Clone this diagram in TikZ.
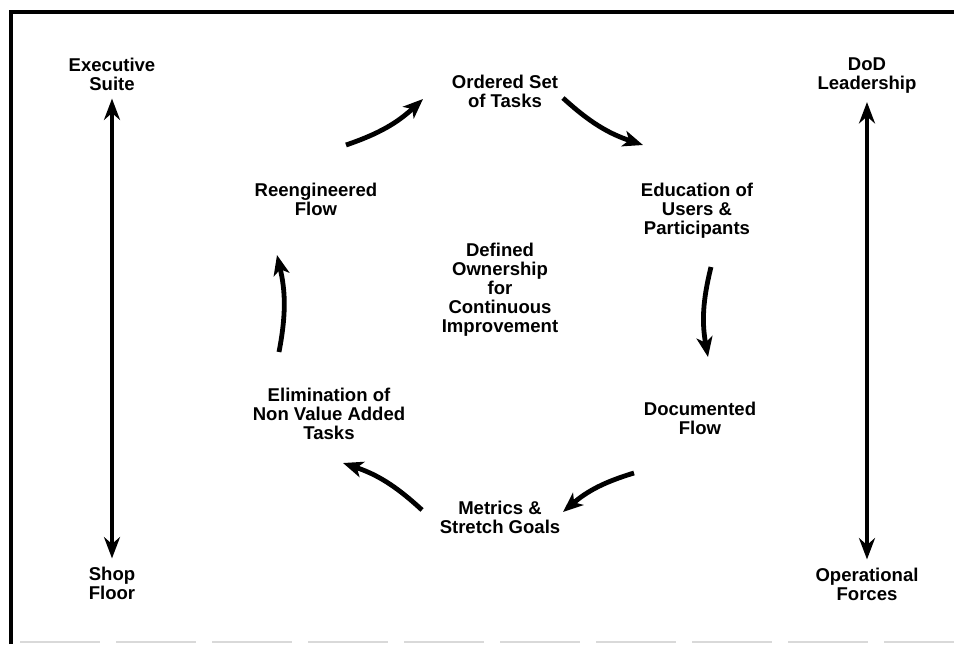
\documentclass[tikz,border=0pt]{standalone}
\usepackage{fontspec}
\setmainfont{Liberation Sans}
\usetikzlibrary{arrows.meta}

\tikzset{
  lbl/.style={font=\bfseries\fontsize{13.9}{14.3}\selectfont, align=center, inner sep=0pt},
  cyc/.style={line width=3.6pt, -{Stealth[length=15pt,width=12pt,inset=4pt]}, bend right=12},
  side/.style={line width=2.6pt, {Stealth[length=16pt,width=12pt]}-{Stealth[length=16pt,width=12pt]}, shorten <=6pt, shorten >=6pt},
}

\begin{document}
\begin{tikzpicture}[x=0.75pt, y=-0.75pt]
	\useasboundingbox (0,0) rectangle (954,644);
	% frame
	\draw[line width=3pt] (11,644) -- (11,12) -- (954,12);
	\draw[black!15, line width=0.8pt, dash pattern=on 60pt off 12pt] (20,642) -- (954,642);

	% ends of the scale
	\node[lbl] (exec) at (112,74) {Executive\\Suite};
	\node[lbl] (shop) at (112,583) {Shop\\Floor};
	\node[lbl] (dod) at (867,76) {DoD\\Leadership};
	\node[lbl] (ops) at (867,584) {Operational\\Forces};
	\draw[side] (exec) -- (shop);
	\draw[side] (dod) -- (ops);

	% the cycle
	\node[lbl] (ordered) at (505,91) {Ordered Set\\of Tasks};
	\node[lbl] (educ) at (697,211) {Education of\\Users \&\\Participants};
	\node[lbl] (doc) at (700,418) {Documented\\Flow};
	\node[lbl] (metrics) at (500,517) {Metrics \&\\Stretch Goals};
	\node[lbl] (elim) at (329,414) {Elimination of\\Non Value Added\\Tasks};
	\node[lbl] (reeng) at (316,199) {Reengineered\\Flow};
	\node[lbl] (own) at (500,290) {Defined\\Ownership\\for\\Continuous\\Improvement};

	\coordinate (a1) at (346,145); \coordinate (b1) at (423,99);
	\coordinate (a2) at (563,98);  \coordinate (b2) at (643,145);
	\coordinate (a3) at (711,267); \coordinate (b3) at (708,357);
	\coordinate (a4) at (634,473); \coordinate (b4) at (563,512);
	\coordinate (a5) at (422,510); \coordinate (b5) at (343,463);
	\coordinate (a6) at (279,352); \coordinate (b6) at (277,255);
	\foreach \i in {1,...,6}
		\draw[cyc] (a\i) to (b\i);
\end{tikzpicture}
\end{document}
